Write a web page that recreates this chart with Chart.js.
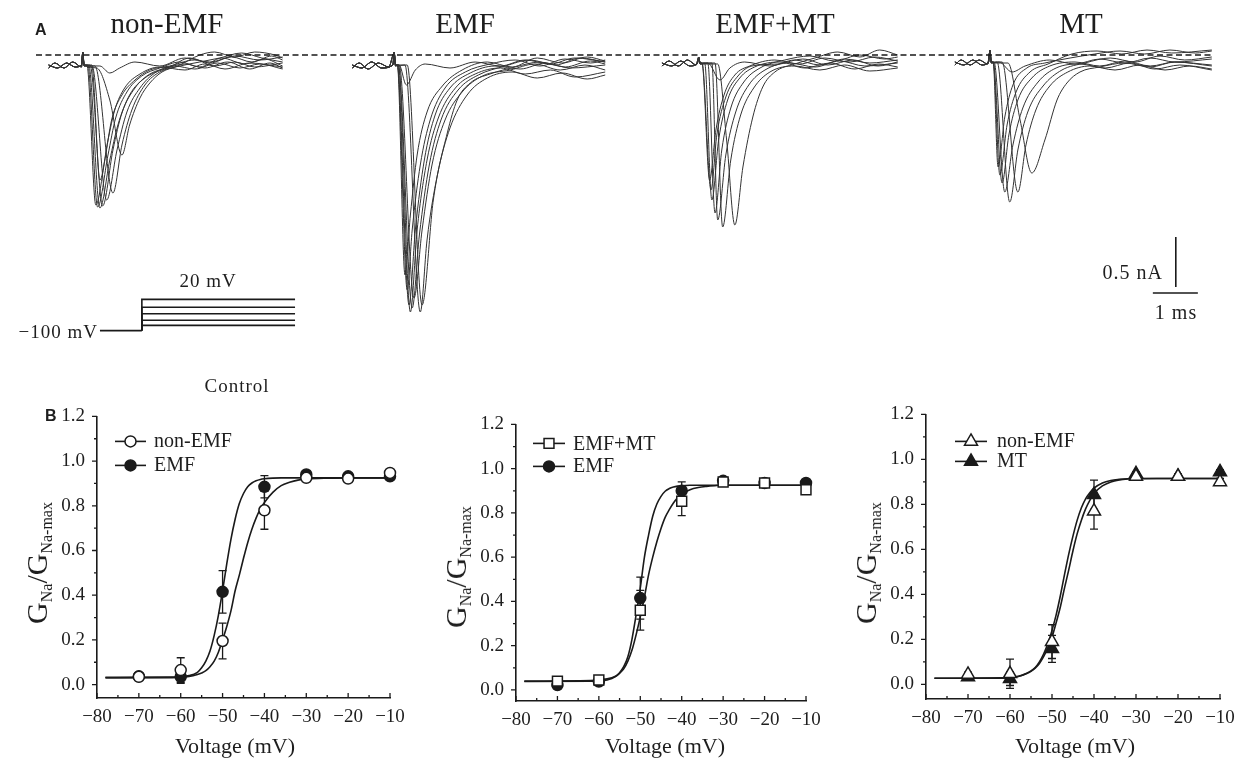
<!DOCTYPE html>
<html>
<head>
<meta charset="utf-8">
<title>Na+ currents and activation curves</title>
<script src="https://cdn.jsdelivr.net/npm/chart.js@4.4.1/dist/chart.umd.min.js"></script>
<style>
  html, body { margin: 0; padding: 0; background: #fff; }
  body { width: 1237px; height: 758px; position: relative; overflow: hidden;
         font-family: "Liberation Serif", "Times New Roman", serif; color: #1e1e1e; }
  .box { position: absolute; }
  .txt { position: absolute; white-space: nowrap; line-height: 1; }
  .c { transform: translateX(-50%); }
  .r { transform: translateX(-100%); }
  .lbl { font-family: "Liberation Sans", Arial, sans-serif; font-weight: bold; font-size: 16px; }
  .ttl { font-size: 29px; }
  .ax { font-size: 22px; }
  .leg { font-size: 20px; }
  .sm { font-size: 19px; letter-spacing: 1px; }
  .ytitle { position: absolute; white-space: nowrap; line-height: 1; font-size: 30px;
            transform: translate(-50%, -50%) rotate(-90deg); }
  .ytitle sub { font-size: 16px; vertical-align: -0.3em; line-height: 0; }
</style>
</head>
<body>

<div class="box" style="left:0;top:0;width:1237px;height:340px"><canvas id="sweeps"></canvas></div>
<div class="box" style="left:95px;top:289px;width:205px;height:52px"><canvas id="protocol"></canvas></div>
<div class="box" style="left:17px;top:401px;width:391px;height:342px"><canvas id="iv1"></canvas></div>
<div class="box" style="left:436px;top:409px;width:388px;height:337px"><canvas id="iv2"></canvas></div>
<div class="box" style="left:846px;top:399px;width:392px;height:345px"><canvas id="iv3"></canvas></div>

<div class="txt lbl" style="left:35px;top:22px">A</div>
<div class="txt lbl" style="left:45px;top:408px">B</div>

<div class="txt ttl c" style="left:167px;top:9px">non-EMF</div>
<div class="txt ttl c" style="left:465px;top:9px">EMF</div>
<div class="txt ttl c" style="left:775px;top:9px">EMF+MT</div>
<div class="txt ttl c" style="left:1081px;top:9px">MT</div>

<div class="txt sm c" style="left:208px;top:271px">20 mV</div>
<div class="txt sm r" style="left:98px;top:322px">&minus;100 mV</div>
<div class="txt sm c" style="left:237px;top:376px">Control</div>
<div class="txt sm r" style="left:1163px;top:262px;font-size:20px">0.5 nA</div>
<div class="txt sm c" style="left:1176px;top:302px;font-size:20px">1 ms</div>

<div class="txt leg" style="left:154px;top:430px">non-EMF</div>
<div class="txt leg" style="left:154px;top:454px">EMF</div>
<div class="txt leg" style="left:573px;top:433px">EMF+MT</div>
<div class="txt leg" style="left:573px;top:455px">EMF</div>
<div class="txt leg" style="left:997px;top:430px">non-EMF</div>
<div class="txt leg" style="left:997px;top:450px">MT</div>

<div class="txt ax c" style="left:235px;top:735px">Voltage (mV)</div>
<div class="txt ax c" style="left:665px;top:735px">Voltage (mV)</div>
<div class="txt ax c" style="left:1075px;top:735px">Voltage (mV)</div>

<div class="ytitle" style="left:37px;top:563px">G<sub>Na</sub>/G<sub>Na-max</sub></div>
<div class="ytitle" style="left:456px;top:567px">G<sub>Na</sub>/G<sub>Na-max</sub></div>
<div class="ytitle" style="left:866px;top:563px">G<sub>Na</sub>/G<sub>Na-max</sub></div>

<script>
Chart.defaults.font.family = '"Liberation Serif", "Times New Roman", serif';
Chart.defaults.color = '#1e1e1e';

// ---------- panel A: current sweeps ----------
// time in ms from the test pulse, current in nA from the zero line (dashed)
const groupNames = ['non-EMF', 'EMF', 'EMF+MT', 'MT'];
const sweepStart = [1.84, 8.76, 15.53, 22.0];   // ms, where each family sits on the shared time base

// holding current and capacity artefact before the step (two versions per group)
const preNon = [
  [[-0.76,-0.10],[-0.56,-0.13],[-0.36,-0.08],[-0.17,-0.12],[-0.03,-0.10],[0,0.03],[0.03,-0.10]],
  [[-0.76,-0.13],[-0.62,-0.08],[-0.42,-0.13],[-0.22,-0.07],[-0.03,-0.12],[0,0.02],[0.03,-0.11]]
];
const preEmf = [
  [[-0.93,-0.10],[-0.72,-0.13],[-0.50,-0.07],[-0.28,-0.13],[-0.03,-0.10],[0,0.03],[0.03,-0.10]],
  [[-0.93,-0.13],[-0.78,-0.08],[-0.58,-0.14],[-0.35,-0.08],[-0.12,-0.12],[0,0.02],[0.03,-0.11]]
];
const preEmfMt = [
  [[-0.82,-0.08],[-0.60,-0.11],[-0.40,-0.06],[-0.20,-0.11],[-0.03,-0.08],[0,-0.03],[0.03,-0.08]],
  [[-0.82,-0.11],[-0.66,-0.06],[-0.46,-0.11],[-0.25,-0.05],[-0.06,-0.10],[0,-0.02],[0.03,-0.09]]
];
const preMt = [
  [[-0.78,-0.07],[-0.58,-0.10],[-0.38,-0.05],[-0.18,-0.10],[-0.03,-0.07],[0,0.05],[0.03,-0.07]],
  [[-0.78,-0.10],[-0.64,-0.05],[-0.44,-0.10],[-0.24,-0.05],[-0.05,-0.09],[0,0.04],[0.03,-0.08]]
];

const sweepsNon = [
  [[0.09,-0.10],[0.29,-1.50],[0.49,-1.05],[0.64,-0.65],[0.87,-0.40],[1.16,-0.25],[1.49,-0.15],[1.93,-0.11],[2.49,-0.05],[2.93,-0.11],[3.38,-0.07],[3.82,-0.12],[4.44,-0.08]],
  [[0.11,-0.10],[0.33,-1.52],[0.56,-1.00],[0.73,-0.63],[0.98,-0.37],[1.31,-0.21],[1.71,-0.13],[2.16,-0.07],[2.60,-0.12],[3.09,-0.03],[3.60,-0.09],[4.04,-0.04],[4.44,-0.11]],
  [[0.13,-0.10],[0.38,-1.53],[0.60,-1.05],[0.78,-0.70],[1.04,-0.40],[1.38,-0.23],[1.82,-0.14],[2.27,-0.09],[2.71,-0.13],[3.22,-0.07],[3.71,-0.14],[4.16,-0.08],[4.44,-0.13]],
  [[0.16,-0.10],[0.44,-1.51],[0.67,-0.95],[0.87,-0.58],[1.16,-0.33],[1.49,-0.19],[1.93,-0.12],[2.38,-0.03],[2.82,-0.08],[3.31,-0.02],[3.76,-0.07],[4.20,-0.01],[4.44,-0.05]],
  [[0.20,-0.10],[0.53,-1.45],[0.76,-0.95],[0.98,-0.57],[1.27,-0.33],[1.60,-0.18],[2.04,-0.11],[2.49,-0.14],[3.00,-0.08],[3.49,-0.13],[3.93,-0.09],[4.44,-0.14]],
  [[0.27,-0.11],[0.67,-1.38],[0.87,-0.90],[1.09,-0.55],[1.38,-0.30],[1.71,-0.17],[2.16,-0.11],[2.60,-0.07],[3.04,-0.03],[3.53,0.02],[3.98,-0.03],[4.44,-0.07]],
  [[0.31,-0.13],[0.60,-0.45],[0.87,-1.00],[1.04,-0.70],[1.27,-0.43],[1.49,-0.28],[1.76,-0.17],[2.11,-0.11],[2.60,0.00],[2.93,0.03],[3.38,-0.02],[3.82,0.03],[4.27,0.00],[4.44,-0.03]],
  [[0.20,-0.11],[0.38,-1.25],[0.56,-0.85],[0.71,-0.55],[0.93,-0.33],[1.27,-0.19],[1.71,-0.12],[2.27,-0.15],[2.71,-0.09],[3.16,-0.14],[3.71,-0.08],[4.44,-0.12]],
  [[0.38,-0.11],[0.60,-0.18],[0.82,-0.13],[1.16,-0.07],[1.71,-0.11],[2.27,-0.03],[2.82,-0.07],[3.38,-0.01],[3.93,-0.05],[4.44,-0.02]]
];
const sweepsEmf = [
  [[0.07,-0.10],[0.29,-2.35],[0.40,-1.75],[0.58,-1.10],[0.80,-0.65],[1.13,-0.33],[1.58,-0.17],[2.13,-0.09],[2.69,-0.05],[3.24,-0.11],[3.80,-0.04],[4.36,-0.08],[4.69,-0.05]],
  [[0.07,-0.10],[0.33,-2.50],[0.47,-1.75],[0.67,-1.05],[0.91,-0.60],[1.24,-0.33],[1.69,-0.18],[2.24,-0.11],[2.80,-0.14],[3.36,-0.08],[3.91,-0.13],[4.69,-0.10]],
  [[0.09,-0.10],[0.36,-2.57],[0.51,-1.75],[0.73,-1.05],[0.98,-0.63],[1.36,-0.33],[1.80,-0.19],[2.36,-0.13],[2.91,-0.19],[3.47,-0.15],[4.02,-0.22],[4.69,-0.17]],
  [[0.09,-0.10],[0.40,-2.53],[0.56,-1.80],[0.78,-1.10],[1.04,-0.65],[1.42,-0.35],[1.87,-0.20],[2.47,-0.11],[3.02,-0.05],[3.58,-0.10],[4.13,-0.03],[4.69,-0.07]],
  [[0.11,-0.10],[0.44,-2.43],[0.62,-1.75],[0.84,-1.10],[1.13,-0.65],[1.51,-0.37],[1.96,-0.21],[2.58,-0.15],[3.13,-0.09],[3.69,-0.15],[4.24,-0.10],[4.69,-0.15]],
  [[0.24,-0.10],[0.58,-2.57],[0.73,-1.85],[0.96,-1.20],[1.24,-0.73],[1.62,-0.40],[2.07,-0.23],[2.62,-0.17],[3.18,-0.23],[3.73,-0.18],[4.29,-0.24],[4.69,-0.20]],
  [[0.29,-0.10],[0.62,-2.50],[0.87,-1.45],[1.18,-0.78],[1.40,-0.45],[1.69,-0.28],[2.13,-0.19],[2.69,-0.12],[3.24,-0.07],[3.80,-0.12],[4.36,-0.06],[4.69,-0.09]],
  [[0.07,-0.10],[0.24,-2.20],[0.36,-1.60],[0.51,-1.00],[0.73,-0.57],[1.07,-0.31],[1.51,-0.15],[2.07,-0.07],[2.62,-0.12],[3.18,-0.03],[3.73,-0.08],[4.29,-0.02],[4.69,-0.06]],
  [[0.11,-0.10],[0.27,-0.30],[0.47,-0.15],[0.69,-0.09],[1.24,-0.13],[1.80,-0.07],[2.36,-0.11],[2.91,-0.05],[3.47,-0.09],[4.02,-0.03],[4.69,-0.07]]
];
const sweepsEmfMt = [
  [[0.07,-0.08],[0.24,-1.25],[0.38,-0.75],[0.56,-0.40],[0.80,-0.20],[1.13,-0.11],[1.69,-0.05],[2.24,-0.09],[2.80,-0.03],[3.36,-0.07],[3.91,-0.02],[4.42,-0.06]],
  [[0.13,-0.08],[0.29,-1.45],[0.44,-0.85],[0.64,-0.45],[0.91,-0.23],[1.24,-0.12],[1.80,-0.07],[2.36,-0.13],[2.91,-0.08],[3.47,-0.14],[4.00,-0.09],[4.42,-0.12]],
  [[0.20,-0.08],[0.36,-1.58],[0.51,-0.95],[0.71,-0.53],[1.00,-0.27],[1.36,-0.13],[1.91,-0.05],[2.47,-0.01],[3.02,-0.06],[3.58,0.00],[4.13,-0.04],[4.42,-0.02]],
  [[0.29,-0.08],[0.42,-1.65],[0.60,-1.00],[0.82,-0.57],[1.11,-0.30],[1.47,-0.15],[2.02,-0.08],[2.58,-0.12],[3.13,-0.06],[3.69,-0.11],[4.42,-0.08]],
  [[0.36,-0.08],[0.53,-1.72],[0.71,-1.05],[0.93,-0.60],[1.22,-0.33],[1.58,-0.17],[2.13,-0.11],[2.69,-0.15],[3.24,-0.10],[3.80,-0.16],[4.42,-0.13]],
  [[0.42,-0.09],[0.62,-0.86],[0.80,-1.70],[0.98,-1.12],[1.20,-0.62],[1.42,-0.32],[1.69,-0.17],[2.13,-0.09],[2.58,-0.03],[3.09,0.03],[3.58,-0.02],[4.02,0.05],[4.42,0.00]],
  [[0.07,-0.08],[0.27,-1.35],[0.40,-0.80],[0.60,-0.42],[0.87,-0.21],[1.18,-0.11],[1.76,-0.09],[2.31,-0.04],[2.87,-0.10],[3.42,-0.05],[3.98,-0.11],[4.42,-0.07]],
  [[0.20,-0.08],[0.47,-0.25],[0.69,-0.13],[1.02,-0.07],[1.58,-0.11],[2.13,-0.05],[2.69,-0.10],[3.24,-0.04],[3.80,-0.08],[4.42,-0.05]]
];
const sweepsMt = [
  [[0.07,-0.07],[0.18,-1.12],[0.33,-0.62],[0.51,-0.30],[0.82,-0.13],[1.22,-0.08],[1.78,-0.03],[2.33,0.01],[2.89,0.04],[3.44,0.01],[4.00,0.05],[4.56,0.02],[4.93,0.04]],
  [[0.07,-0.07],[0.27,-1.28],[0.42,-0.80],[0.62,-0.45],[0.93,-0.23],[1.33,-0.11],[1.89,-0.07],[2.44,-0.11],[3.00,-0.06],[3.56,-0.11],[4.11,-0.07],[4.93,-0.10]],
  [[0.09,-0.07],[0.33,-1.37],[0.51,-0.90],[0.73,-0.53],[1.07,-0.27],[1.47,-0.13],[2.00,-0.09],[2.56,-0.13],[3.11,-0.08],[3.67,-0.14],[4.22,-0.10],[4.93,-0.15]],
  [[0.16,-0.07],[0.44,-1.47],[0.62,-0.95],[0.84,-0.57],[1.18,-0.31],[1.60,-0.15],[2.11,-0.08],[2.67,-0.03],[3.22,-0.07],[3.78,-0.01],[4.33,-0.05],[4.93,-0.02]],
  [[0.27,-0.07],[0.62,-1.37],[0.80,-0.90],[1.02,-0.55],[1.33,-0.31],[1.73,-0.17],[2.22,-0.11],[2.78,-0.15],[3.33,-0.10],[3.89,-0.15],[4.44,-0.11],[4.93,-0.14]],
  [[0.40,-0.08],[0.67,-0.65],[0.93,-1.18],[1.22,-0.85],[1.49,-0.45],[1.71,-0.28],[2.00,-0.17],[2.44,-0.12],[3.00,-0.08],[3.56,-0.12],[4.11,-0.07],[4.93,-0.11]],
  [[0.07,-0.07],[0.22,-1.20],[0.38,-0.70],[0.58,-0.37],[0.89,-0.17],[1.29,-0.09],[1.82,0.01],[2.38,0.04],[2.93,0.01],[3.49,0.05],[4.04,0.02],[4.93,0.05]],
  [[0.20,-0.07],[0.49,-0.17],[0.78,-0.11],[1.33,-0.05],[1.89,-0.09],[2.44,-0.04],[3.00,-0.08],[3.56,-0.03],[4.11,-0.07],[4.93,-0.04]]
];

const zeroLine  = [[0.8, 0], [26.96, 0]];            // ms (shared base), nA
const scaleBarV = [[26.13, -1.82], [26.13, -2.32]];  // 0.5 nA
const scaleBarH = [[25.62, -2.38], [26.62, -2.38]];  // 1 ms

// step protocol (ms, mV)
const protocolTimes = [0, 0.93, 4.33];
const holdingMv = -100;
const stepMv = [-80, -60, -35, -10, 20];

// ---------- panel B: activation, G/Gmax vs voltage ----------
const voltages = [-70, -60, -50, -40, -30, -20, -10];
const xTicks = [-80, -70, -60, -50, -40, -30, -20, -10];
const xMinor = [-75, -65, -55, -45, -35, -25, -15];
const yTicks = [0, 0.2, 0.4, 0.6, 0.8, 1.0, 1.2];
const yMinor = [0.1, 0.3, 0.5, 0.7, 0.9, 1.1];

const c1NonEmf    = [0.035, 0.065, 0.195, 0.78, 0.925, 0.922, 0.947];
const c1NonEmfErr = [0.01, 0.055, 0.08, 0.085, 0.015, 0.01, 0.01];
const c1Emf       = [0.037, 0.035, 0.415, 0.885, 0.94, 0.932, 0.932];
const c1EmfErr    = [0.01, 0.03, 0.095, 0.05, 0.015, 0.01, 0.01];

const c2EmfMt     = [0.04, 0.045, 0.36, 0.853, 0.94, 0.935, 0.905];
const c2EmfMtErr  = [0.01, 0.01, 0.09, 0.065, 0.012, 0.01, 0.01];
const c2Emf       = [0.022, 0.038, 0.415, 0.9, 0.945, 0.935, 0.935];
const c2EmfErr    = [0.01, 0.012, 0.095, 0.04, 0.012, 0.01, 0.01];

const c3NonEmf    = [0.044, 0.047, 0.19, 0.77, 0.924, 0.924, 0.9];
const c3NonEmfErr = [0.01, 0.065, 0.075, 0.08, 0.01, 0.01, 0.015];
const c3Mt        = [0.033, 0.025, 0.158, 0.843, 0.936, 0.924, 0.944];
const c3MtErr     = [0.01, 0.03, 0.06, 0.065, 0.01, 0.01, 0.01];

// fitted curves
const fitV = [-78,-62,-58,-56,-55,-54,-53,-52,-51,-50,-49,-48,-47,-46,-45,-44,-43,-42,-41,-40,-38,-36,-34,-32,-30,-25,-20,-10];
const c1FitNonEmf = [.03,.031,.036,.045,.052,.062,.08,.105,.145,.2,.26,.33,.42,.49,.565,.635,.695,.745,.785,.815,.86,.89,.905,.915,.92,.924,.925,.925];
const c1FitEmf    = [.033,.034,.04,.055,.075,.105,.15,.22,.31,.42,.54,.65,.74,.81,.855,.885,.902,.912,.918,.921,.924,.925,.925,.925,.925,.925,.925,.925];
const c2FitEmfMt  = [.04,.042,.05,.062,.075,.095,.13,.18,.25,.33,.42,.52,.6,.67,.73,.78,.815,.845,.868,.885,.905,.915,.92,.923,.925,.925,.925,.925];
const c2FitEmf    = [.038,.039,.045,.06,.078,.105,.15,.23,.34,.46,.6,.7,.785,.84,.875,.898,.91,.917,.921,.923,.925,.925,.925,.925,.925,.925,.925,.925];
const c3FitNonEmf = [.027,.029,.036,.048,.058,.072,.093,.123,.162,.21,.275,.345,.43,.51,.595,.67,.73,.78,.818,.848,.882,.9,.909,.913,.914,.915,.915,.915];
const c3FitMt     = [.027,.028,.035,.05,.06,.075,.1,.135,.18,.24,.31,.395,.49,.58,.66,.73,.785,.825,.852,.872,.895,.906,.911,.914,.915,.915,.915,.915];

const INK = '#1a1a1a';
const baseOpts = {
  animation: false, responsive: true, maintainAspectRatio: false, events: [],
  plugins: { legend: { display: false }, tooltip: { enabled: false } }
};

// ---- panel A chart
const pres = [preNon, preEmf, preEmfMt, preMt];
const families = [sweepsNon, sweepsEmf, sweepsEmfMt, sweepsMt];
const traceSets = [];
families.forEach((fam, g) => {
  fam.forEach((pts, i) => {
    traceSets.push({
      label: groupNames[g] + ' ' + (i + 1),
      data: pres[g][i % 2].concat(pts).map(p => ({ x: sweepStart[g] + p[0], y: p[1] })),
      borderColor: '#333', borderWidth: 1, pointRadius: 0,
      cubicInterpolationMode: 'monotone'
    });
  });
});
const toXY = arr => arr.map(p => ({ x: p[0], y: p[1] }));

new Chart(document.getElementById('sweeps'), {
  type: 'line',
  data: {
    datasets: [
      { data: toXY(zeroLine), borderColor: INK, borderWidth: 1.4, borderDash: [6, 3.5], pointRadius: 0 },
      { data: toXY(scaleBarV), borderColor: INK, borderWidth: 1.6, pointRadius: 0 },
      { data: toXY(scaleBarH), borderColor: INK, borderWidth: 1.6, pointRadius: 0 },
      ...traceSets
    ]
  },
  options: {
    ...baseOpts,
    layout: { padding: 0 },
    scales: {
      x: { type: 'linear', min: 0, max: 27.49, display: false },
      y: { type: 'linear', min: -2.85, max: 0.55, display: false }
    }
  }
});

// ---- step protocol
const protoSets = [{ data: [{ x: protocolTimes[0], y: holdingMv }, { x: protocolTimes[1], y: holdingMv }] }];
stepMv.forEach(v => protoSets.push({
  data: [{ x: protocolTimes[1], y: holdingMv }, { x: protocolTimes[1], y: v }, { x: protocolTimes[2], y: v }]
}));
protoSets.forEach(d => Object.assign(d, { borderColor: INK, borderWidth: 1.6, pointRadius: 0, clip: false }));

new Chart(document.getElementById('protocol'), {
  type: 'line',
  data: { datasets: protoSets },
  options: {
    ...baseOpts,
    layout: { padding: 0 },
    scales: {
      x: { type: 'linear', min: -0.11, max: 4.44, display: false },
      y: { type: 'linear', min: -140, max: 60, display: false }
    }
  }
});

// ---- activation charts
function drawMarker(ctx, style, x, y, r, filled) {
  ctx.beginPath();
  if (style === 'circle') {
    ctx.arc(x, y, r, 0, Math.PI * 2);
  } else if (style === 'rect') {
    const s = r * Math.SQRT1_2;
    ctx.rect(x - s, y - s, 2 * s, 2 * s);
  } else {
    for (let k = 0; k < 3; k++) {
      const a = k * 2 * Math.PI / 3;
      const px = x + Math.sin(a) * r, py = y - Math.cos(a) * r;
      if (k) ctx.lineTo(px, py); else ctx.moveTo(px, py);
    }
    ctx.closePath();
  }
  ctx.fillStyle = filled ? INK : '#fff';
  ctx.fill();
  ctx.lineWidth = 1.5;
  ctx.strokeStyle = INK;
  ctx.stroke();
}

const decorations = {
  id: 'decorations',
  beforeDatasetsDraw(chart, args, opts) {
    const { ctx, scales: { x, y } } = chart;
    ctx.save();
    ctx.strokeStyle = INK;
    ctx.lineWidth = 1.3;
    opts.errors.forEach(s => {
      voltages.forEach((v, i) => {
        const px = x.getPixelForValue(v);
        const lo = y.getPixelForValue(s.values[i] - s.err[i]);
        const hi = y.getPixelForValue(s.values[i] + s.err[i]);
        ctx.beginPath();
        ctx.moveTo(px, lo); ctx.lineTo(px, hi);
        ctx.moveTo(px - 4, lo); ctx.lineTo(px + 4, lo);
        ctx.moveTo(px - 4, hi); ctx.lineTo(px + 4, hi);
        ctx.stroke();
      });
    });
    ctx.restore();
  },
  afterDraw(chart, args, opts) {
    const { ctx, scales: { x, y }, chartArea: a } = chart;
    ctx.save();
    ctx.strokeStyle = INK;
    ctx.lineWidth = 1.3;
    ctx.beginPath();
    yTicks.forEach(v => { const p = y.getPixelForValue(v); ctx.moveTo(a.left - 5, p); ctx.lineTo(a.left, p); });
    yMinor.forEach(v => { const p = y.getPixelForValue(v); ctx.moveTo(a.left - 3, p); ctx.lineTo(a.left, p); });
    xTicks.forEach(v => { const p = x.getPixelForValue(v); ctx.moveTo(p, a.bottom); ctx.lineTo(p, a.bottom - 5); });
    xMinor.forEach(v => { const p = x.getPixelForValue(v); ctx.moveTo(p, a.bottom); ctx.lineTo(p, a.bottom - 3); });
    ctx.stroke();
    // legend symbols
    opts.legend.forEach(it => {
      const x0 = a.left + opts.legendX[0], x1 = a.left + opts.legendX[1], yy = a.top + it.dy;
      ctx.beginPath();
      ctx.lineWidth = 1.6;
      ctx.moveTo(x0, yy); ctx.lineTo(x1, yy);
      ctx.stroke();
      drawMarker(ctx, it.style, (x0 + x1) / 2, yy, it.r, it.filled);
    });
    ctx.restore();
  }
};

function activationChart(id, ymin, series, fits, legendX) {
  const datasets = [];
  series.forEach(s => datasets.push({
    data: voltages.map((v, i) => ({ x: v, y: s.values[i] })),
    showLine: false, pointStyle: s.style, pointRadius: s.r, pointBorderWidth: 1.5,
    pointBorderColor: INK, pointBackgroundColor: s.filled ? INK : '#fff', clip: false
  }));
  fits.forEach(f => datasets.push({
    data: fitV.map((v, i) => ({ x: v, y: f[i] })),
    borderColor: INK, borderWidth: 1.6, pointRadius: 0, cubicInterpolationMode: 'monotone', clip: false
  }));
  const tickFont = { size: 19 };
  new Chart(document.getElementById(id), {
    type: 'line',
    data: { datasets },
    options: {
      ...baseOpts,
      layout: { padding: { left: 0, right: 18, top: 15, bottom: 0 } },
      plugins: {
        ...baseOpts.plugins,
        decorations: {
          errors: series,
          legendX,
          legend: series.map(s => ({ style: s.style, filled: s.filled, r: s.r, dy: s.legendDy }))
        }
      },
      scales: {
        x: {
          type: 'linear', min: -80, max: -10,
          grid: { display: false },
          border: { display: true, color: INK, width: 1.6 },
          ticks: { stepSize: 10, includeBounds: false, autoSkip: false, maxRotation: 0, padding: 0,
                   font: tickFont, color: '#1e1e1e', callback: v => '\u2212' + Math.abs(v) },
          afterFit: s => { s.height = 45; }
        },
        y: {
          type: 'linear', min: ymin, max: 1.2,
          grid: { display: true, drawOnChartArea: false, drawTicks: true, tickLength: 8, color: 'rgba(0,0,0,0)' },
          border: { display: true, color: INK, width: 1.6 },
          ticks: { stepSize: 0.2, includeBounds: false, padding: 4, font: tickFont, color: '#1e1e1e',
                   callback: v => v.toFixed(1) },
          afterFit: s => { s.width = 80; }
        }
      }
    },
    plugins: [decorations]
  });
}

activationChart('iv1', -0.06, [
  { values: c1NonEmf, err: c1NonEmfErr, style: 'circle', r: 5.5, filled: false, legendDy: 25 },
  { values: c1Emf, err: c1EmfErr, style: 'circle', r: 5.5, filled: true, legendDy: 49 }
], [c1FitNonEmf, c1FitEmf], [18, 49]);

activationChart('iv2', -0.05, [
  { values: c2EmfMt, err: c2EmfMtErr, style: 'rect', r: 7, filled: false, legendDy: 19 },
  { values: c2Emf, err: c2EmfErr, style: 'circle', r: 5.5, filled: true, legendDy: 42 }
], [c2FitEmfMt, c2FitEmf], [17, 49]);

activationChart('iv3', -0.065, [
  { values: c3NonEmf, err: c3NonEmfErr, style: 'triangle', r: 7.5, filled: false, legendDy: 27 },
  { values: c3Mt, err: c3MtErr, style: 'triangle', r: 7.5, filled: true, legendDy: 47 }
], [c3FitNonEmf, c3FitMt], [29, 61]);
</script>
</body>
</html>
